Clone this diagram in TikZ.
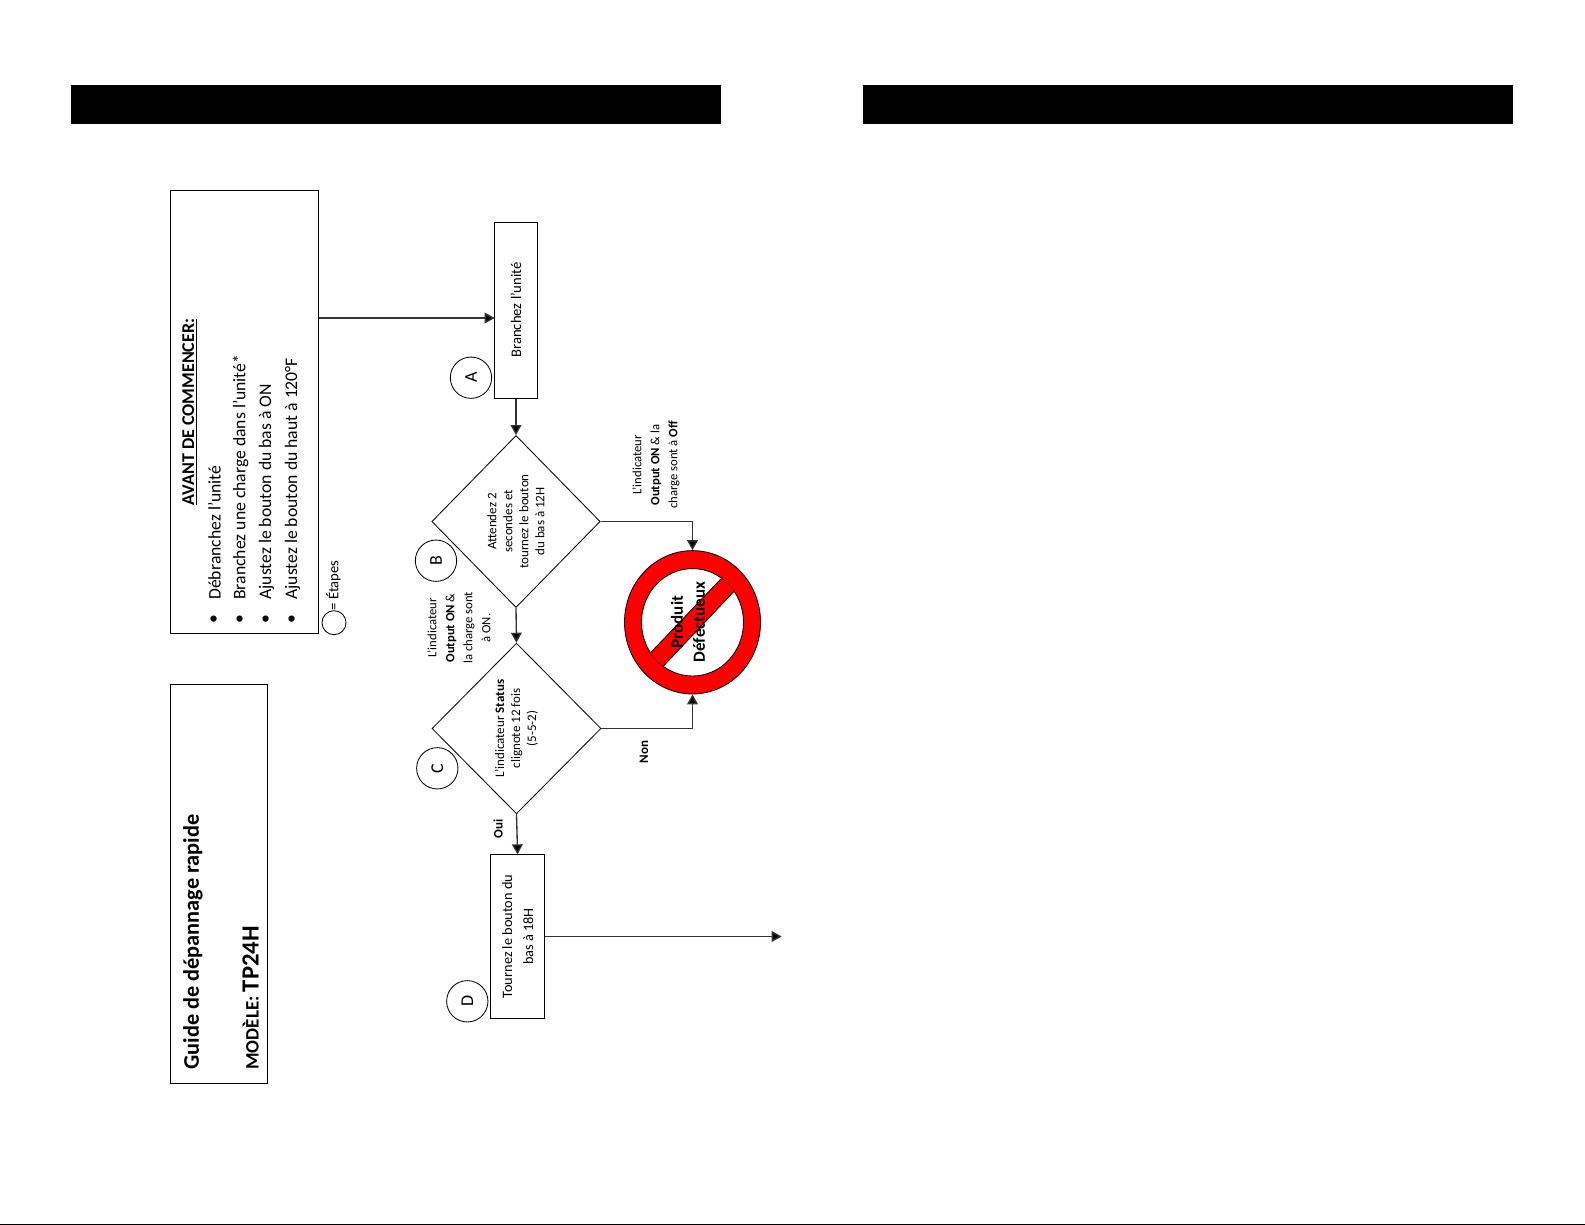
\documentclass[tikz,border=0pt]{standalone}
\usepackage{fontspec}
\setmainfont{Carlito}
\usepackage{tikz}
\usetikzlibrary{arrows.meta}
\usetikzlibrary{shapes.geometric}

\tikzset{
  vtext/.style={rotate=90, inner sep=0pt, align=center},
  stepbox/.style={draw, line width=0.6pt, rotate=90, inner sep=0pt, align=center, font=\fontsize{8.8}{11}\selectfont},
  decision/.style={diamond, draw, line width=0.5pt, rotate=90, inner sep=0pt, align=center, font=\fontsize{7.8}{9.6}\selectfont},
  stepmark/.style={circle, draw, line width=0.5pt, rotate=90, minimum size=24.8pt, inner sep=0pt, font=\fontsize{10.8}{12}\selectfont},
  flow/.style={line width=0.8pt, draw=black!80, -{Triangle[length=6pt,width=6.4pt,fill=black]}},
  note/.style={vtext, font=\fontsize{7.6}{10.8}\selectfont},
  listitem/.style={vtext, anchor=west, font=\fontsize{10.6}{12}\selectfont},
}

\begin{document}
\begin{tikzpicture}[x=0.6pt, y=-0.6pt]
    \useasboundingbox (0,0) rectangle (1585,1225);
    \fill (71,85) rectangle (721,124);
    \fill (863,85) rectangle (1513,124);
    \fill (0,1223.8) rectangle (1585,1225);

    % title and list boxes
    \node[stepbox, minimum width=239.4pt, minimum height=58pt] (titlebox) at (219.3,883.8) {};
    \node[vtext, anchor=west, font=\fontsize{13.4}{15}\selectfont\bfseries] (guide) at (193,1070) {Guide de dépannage rapide};
    \node[vtext, anchor=west, font=\fontsize{11.4}{15}\selectfont\bfseries] (model) at (250.7,1070) {MODÈLE: {\fontsize{14.8}{15}\selectfont TP24H}};
    \node[stepbox, minimum width=266.2pt, minimum height=88.6pt] (avant) at (244.2,412) {};
    \node[vtext, font=\fontsize{10.8}{12}\selectfont\bfseries] (avanthead) at (190,412) {\underline{AVANT DE COMMENCER:}};
    \foreach \x/\txt in {214.5/Débranchez l’unité, 240.5/Branchez une charge dans l’unité*, 266.5/Ajustez le bouton du bas à ON, 292.5/Ajustez le bouton du haut à 120°F} {
        \node[listitem] (item\x) at (\x,600) {\txt};
        \node[vtext, font=\fontsize{10.6}{12}\selectfont] (dot\x) at (\x,619) {•};
    }
    \node[stepmark, minimum size=14.4pt] (legend) at (334,622.7) {};
    \node[vtext, font=\fontsize{8.8}{10}\selectfont] (legendtext) at (333.5,585.5) {= Étapes};

    % flow chart
    \node[stepbox, minimum width=105.6pt, minimum height=25.4pt] (branch) at (516,310) {Branchez l’unité};
    \node[decision, minimum width=103.2pt, minimum height=101pt] (checkb) at (516,521.5) {Attendez 2\\secondes et\\tournez le bouton\\du bas à 12H};
    \node[decision, minimum width=102.4pt, minimum height=101.4pt] (checkc) at (516.5,728.5) {L’indicateur \textbf{Status}\\clignote 12 fois\\(5-5-2)};
    \node[stepbox, minimum width=98pt, minimum height=32pt, font=\fontsize{8.6}{12.6}\selectfont] (turn) at (517.6,936.5) {Tournez le bouton du\\bas à 18H};
    \node[stepmark] (marka) at (471,377.7) {A};
    \node[stepmark] (markb) at (436,560.7) {B};
    \node[stepmark] (markc) at (437.3,768.3) {C};
    \node[stepmark] (markd) at (467.3,1001.3) {D};

    % no entry sign
    \node[ellipse, draw, fill=red, line width=0.5pt, minimum width=81.6pt, minimum height=86pt, inner sep=0pt] (stop) at (692.5,622.3) {};
    \draw[fill=white, line width=0.5pt] (692.5,622.3) ellipse [x radius=51, y radius=53.7];
    \begin{scope}
        \clip (692.5,622.3) ellipse [x radius=51, y radius=53.7];
        \draw[fill=red, line width=0.5pt] (630,674.3) -- (742,556.8) -- (754,570.2) -- (643,687.7) -- cycle;
    \end{scope}
    \node[vtext, font=\fontsize{10.2}{13.2}\selectfont\bfseries] (stoptext) at (688,622) {Produit\\Défectueux};

    \coordinate (branchin) at (494.7,318);
    \coordinate (nextpage) at (781.7,936.5);
    \draw[flow] (avant.south |- branchin) -- (branchin);
    \draw[flow] (branch.west) -- (checkb.east);
    \draw[flow] (checkb.west) -- (checkc.east);
    \draw[flow] (checkc.west) -- (turn.east);
    \draw[flow] (turn.south) -- (nextpage);
    \draw[flow] (checkb.south) -| (stop.north);
    \draw[flow] (checkc.south) -| (stop.south);

    \node[note] (noteon) at (459,628) {L’indicateur\\\textbf{Output ON} \&\\la charge sont\\à ON.};
    \node[note] (noteoff) at (656,465) {L’indicateur\\\textbf{Output ON} \& la\\charge sont à \textbf{Off}};
    \node[note, font=\fontsize{7.8}{10.8}\selectfont\bfseries] (labelnon) at (644,752) {Non};
    \node[note, font=\fontsize{7.8}{10.8}\selectfont\bfseries] (labeloui) at (498,829) {Oui};
\end{tikzpicture}
\end{document}
